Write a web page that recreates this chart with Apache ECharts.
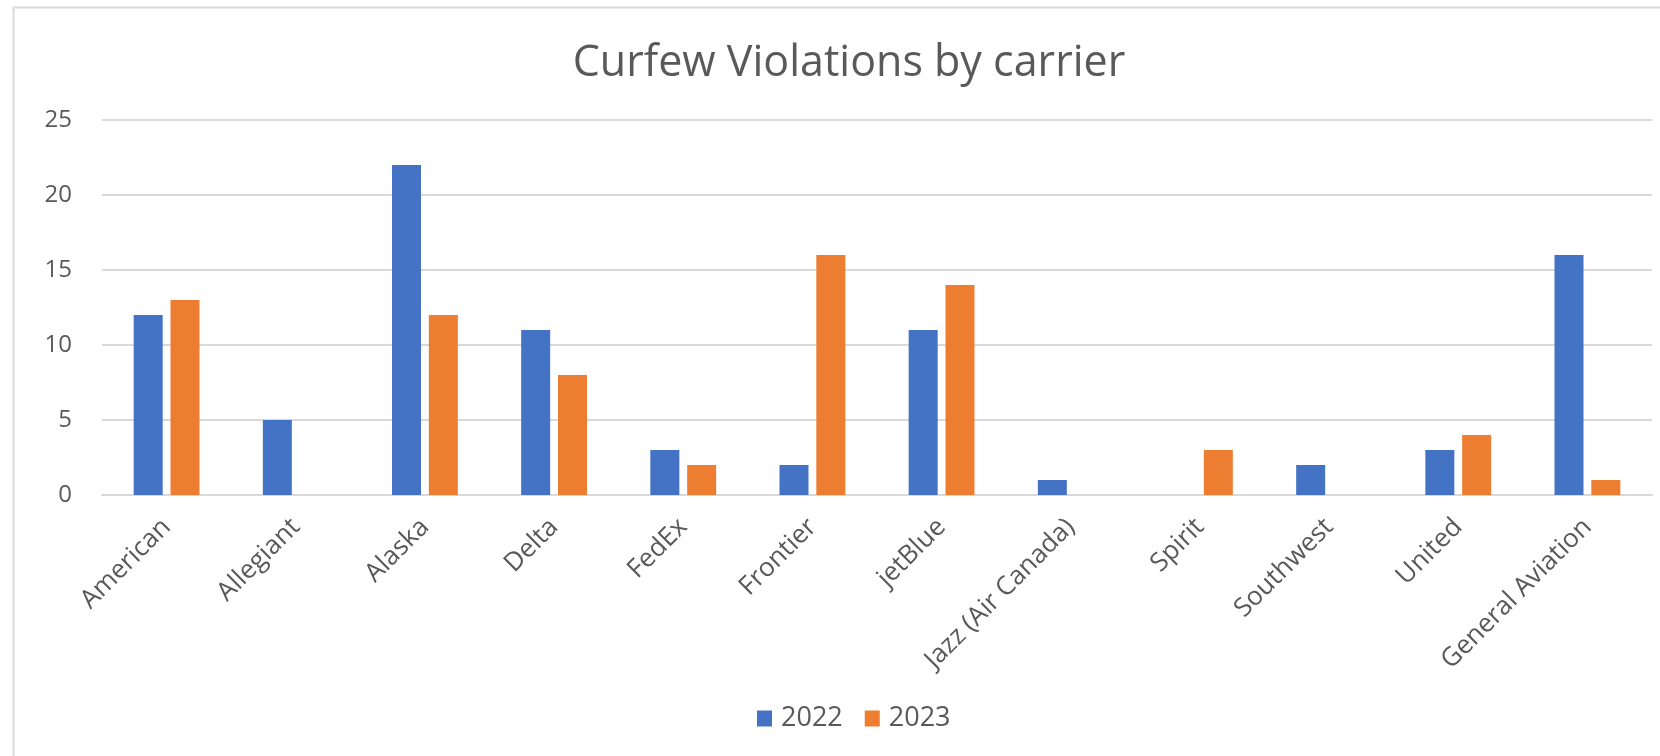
<!DOCTYPE html>
<html>
<head>
<meta charset="utf-8">
<script src="https://cdn.jsdelivr.net/npm/echarts@6/dist/echarts.min.js"></script>
<style>
html,body{margin:0;padding:0;background:#fff;}
#c{width:1660px;height:756px;}
</style>
</head>
<body>
<div id="c"></div>
<script>
var categories = ['American','Allegiant','Alaska','Delta','FedEx','Frontier','jetBlue','Jazz (Air Canada)','Spirit','Southwest','United','General Aviation'];
var values2022 = [12,5,22,11,3,2,11,1,0,2,3,16];
var values2023 = [13,0,12,8,2,16,14,0,3,0,4,1];
var seriesNames = ['2022','2023'];
var yTicks = [0,5,10,15,20,25];

var font = 'Open Sans';
var chart = echarts.init(document.getElementById('c'));
chart.setOption({
  backgroundColor:'#fff',
  animation:false,
  title:{
    text:'Curfew Violations by carrier',
    left:844, top:37, textAlign:'center',
    textStyle:{fontFamily:font,fontSize:43,fontWeight:'normal',color:'#595959'}
  },
  graphic:[{
    type:'rect', left:11, top:5, shape:{width:1700,height:800},
    style:{fill:'none',stroke:'#d9d9d9',lineWidth:2}, silent:true, z:-1
  }],
  legend:{
    data:seriesNames, left:752, top:700,
    itemWidth:15, itemHeight:16, itemGap:22, icon:'rect',
    textStyle:{fontFamily:font,fontSize:27,color:'#595959',padding:[0,0,0,4]}
  },
  grid:{left:102,right:8,top:120,bottom:261},
  xAxis:{
    type:'category', data:categories,
    axisLine:{lineStyle:{color:'#d9d9d9',width:2}},
    axisTick:{show:false},
    axisLabel:{rotate:45,interval:0,margin:28,fontFamily:font,fontSize:26,color:'#595959'}
  },
  yAxis:{
    type:'value', min:yTicks[0], max:yTicks[yTicks.length-1], interval:5,
    axisLine:{show:false}, axisTick:{show:false},
    splitLine:{lineStyle:{color:'#d9d9d9',width:2}},
    axisLabel:{margin:30,fontFamily:font,fontSize:24,color:'#595959'}
  },
  series:[
    {name:seriesNames[0],type:'bar',data:values2022,barWidth:29,barGap:'27%',itemStyle:{color:'#4472c4'}},
    {name:seriesNames[1],type:'bar',data:values2023,barWidth:29,barGap:'27%',itemStyle:{color:'#ed7d31'}}
  ]
});
</script>
</body>
</html>
